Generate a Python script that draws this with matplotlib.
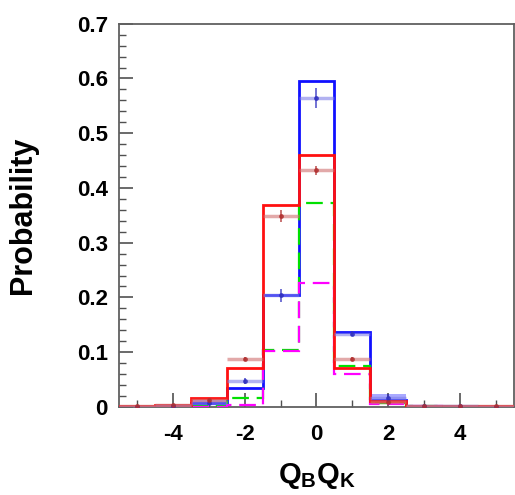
import numpy as np
import matplotlib
matplotlib.use("Agg")
import matplotlib.pyplot as plt
from matplotlib.ticker import MultipleLocator, FuncFormatter

plt.rcParams['font.family'] = ['Liberation Sans', 'DejaVu Sans']
plt.rcParams['font.weight'] = 'bold'
plt.rcParams['mathtext.fontset'] = 'custom'
plt.rcParams['mathtext.bf'] = 'Liberation Sans:bold'
plt.rcParams['mathtext.rm'] = 'Liberation Sans:bold'

# bin centres of Q_B*Q_K (unit-width bins)
centers = np.arange(-5, 6)
edges = np.arange(-5.5, 6.0, 1.0)

# histograms (lines)
blue_hist = [0.0, 0.002, 0.008, 0.035, 0.204, 0.596, 0.137, 0.013, 0.002, 0.001, 0.0]
red_hist = [0.001, 0.004, 0.016, 0.071, 0.368, 0.461, 0.071, 0.010, 0.002, 0.001, 0.001]
green_hist = [0.0, 0.0, 0.002, 0.016, 0.104, 0.372, 0.075, 0.007, 0.001, 0.0, 0.0]
magenta_hist = [0.0, 0.0, 0.0, 0.004, 0.102, 0.226, 0.060, 0.006, 0.001, 0.0, 0.0]

# data points with errors
blue_pts = [0.0, 0.002, 0.008, 0.047, 0.204, 0.564, 0.134, 0.017, 0.002, 0.001, 0.0]
blue_err = [0.0, 0.001, 0.005, 0.005, 0.012, 0.018, 0.005, 0.006, 0.001, 0.001, 0.0]
red_pts = [0.001, 0.004, 0.013, 0.087, 0.349, 0.432, 0.088, 0.009, 0.002, 0.001, 0.002]
red_err = [0.001, 0.001, 0.002, 0.004, 0.011, 0.009, 0.004, 0.002, 0.001, 0.001, 0.002]

fig = plt.figure(figsize=(5.15, 4.95), dpi=100)
ax = fig.add_axes([0.231, 0.178, 0.767, 0.774])

# blue error boxes (only visible in the small bins)
bp = np.array(blue_pts)
be = np.array(blue_err)
sel = (be >= 0.005) & (bp < 0.03)
ax.bar(centers[sel], 2 * be[sel], bottom=(bp - be)[sel], width=1.0,
       color='#7070ff', alpha=0.6, linewidth=0, zorder=1)

ax.stairs(blue_hist, edges, color='#1010ff', linewidth=2.0, zorder=2)
ax.stairs(green_hist, edges, color='#00e000', linewidth=1.6,
          linestyle=(0, (7.5, 3.5)), zorder=3)
ax.stairs(magenta_hist, edges, color='#ff00ff', linewidth=1.6,
          linestyle=(0, (7.5, 3.5)), zorder=3)
ax.stairs(red_hist, edges, color='#ff1010', linewidth=2.0, zorder=4)

# data points
ax.errorbar(centers, blue_pts, xerr=0.5, yerr=None, fmt='none',
            ecolor='#8080e8', elinewidth=2.5, alpha=0.6, zorder=5)
ax.errorbar(centers, blue_pts, yerr=blue_err, fmt='o', markersize=2.5,
            color='#3030c0', ecolor='#3030c0', elinewidth=1.2, alpha=0.8, zorder=6)
ax.errorbar(centers, red_pts, xerr=0.5, yerr=None, fmt='none',
            ecolor='#d07070', elinewidth=2.5, alpha=0.6, zorder=5)
ax.errorbar(centers, red_pts, yerr=red_err, fmt='o', markersize=2.5,
            color='#b03030', ecolor='#b03030', elinewidth=1.2, alpha=0.8, zorder=6)

ax.set_xlim(-5.5, 5.5)
ax.set_ylim(0, 0.7)

ax.xaxis.set_major_locator(MultipleLocator(2))
ax.xaxis.set_minor_locator(MultipleLocator(1))
ax.yaxis.set_major_locator(MultipleLocator(0.1))
ax.yaxis.set_minor_locator(MultipleLocator(0.02))
ax.yaxis.set_major_formatter(FuncFormatter(lambda v, p: f'{v:.1f}' if v > 1e-9 else '0'))
ax.xaxis.set_major_formatter(FuncFormatter(lambda v, p: f'{v:g}'))

ax.tick_params(which='both', direction='in', top=False, right=False,
               color='#505050', labelsize=16)
ax.tick_params(which='major', length=10, width=1.2)
ax.tick_params(which='minor', length=5, width=1.0)
ax.tick_params(axis='y', pad=8)
ax.tick_params(axis='x', pad=12)
for s in ax.spines.values():
    s.set_color('#606060')
    s.set_linewidth(1.3)

ax.set_ylabel('Probability', fontsize=22, fontweight='bold')
ax.yaxis.set_label_coords(-0.205, 0.5)
ax.set_xlabel(r'$\mathbf{Q_{B}Q_{K}}$', fontsize=21)
ax.xaxis.set_label_coords(0.5, -0.14)

fig.savefig('out.png', dpi=100)
